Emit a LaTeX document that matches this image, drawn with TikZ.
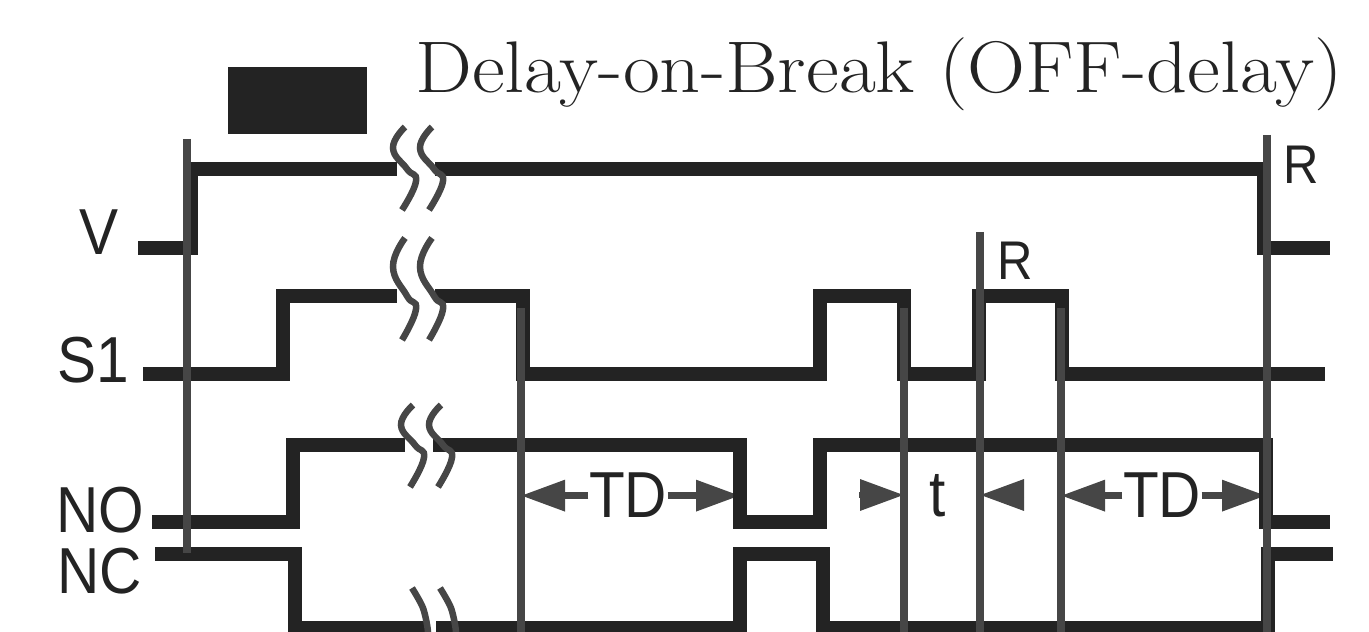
\documentclass[tikz,border=0pt]{standalone}
\usepackage{fontspec}
\newfontfamily\lblfont[FakeStretch=0.9]{Liberation Sans}
\usepackage{tikz}
\usetikzlibrary{arrows.meta, positioning, calc}

\definecolor{ink}{HTML}{232323}
\definecolor{lead}{HTML}{464646}

% break mark: crossing x, line y, reach up, reach down
\newcommand{\squig}[4]{%
  \draw[brk] plot[smooth, tension=0.8] coordinates
    {({#1-2},{#2-#3}) ({#1-14},{#2-0.5*#3}) (#1,#2) ({#1+9},{#2+0.3*#4}) ({#1-5},{#2+#4})};}

\begin{document}
\begin{tikzpicture}[
  x=0.1mm, y=-0.1mm,
  trace/.style={draw=ink, line width=1.45mm},
  vline/.style={draw=lead, line width=0.75mm},
  brk/.style={draw=lead, line width=0.65mm},
  dim/.style={draw=lead, line width=0.65mm, -{Triangle[length=4.4mm, width=3mm]}},
  lbl/.style={font=\lblfont\fontsize{18.5pt}{22pt}\selectfont, text=ink, inner sep=0pt, anchor=base},
  rlbl/.style={lbl, font=\lblfont\fontsize{15.5pt}{18pt}\selectfont},
]
  \useasboundingbox (0,0) rectangle (1369,632);

  % title and coil block
  \node[anchor=base, inner sep=0pt, text=ink, font=\fontsize{20.8pt}{24pt}\selectfont] (title) at (879,93)
    {\scalebox{1.1}[1]{Delay-on-Break (OFF-delay)}};
  \fill[ink] (228,67) rectangle (367,134);

  % signal names
  \node[lbl] (v) at (99,255) {V};
  \node[lbl] (s1) at (93,383) {S1};
  \node[lbl] (no) at (100,533) {NO};
  \node[lbl] (nc) at (100,594) {NC};

  % timing marks
  \coordinate (m0) at (187,139);
  \foreach \x/\top [count=\i] in {521/308, 904/308, 980/232, 1061/308, 1267/135}
    \coordinate (m\i) at (\x,\top);
  \coordinate (bot) at (0,640);
  \coordinate (fall1) at (740,0);
  \coordinate (fall2) at (1266,0);
  \coordinate (ta) at (859,495);
  \coordinate (tb) at (1024,495);

  % intervals
  \node[lbl] (td1) at (628,518) {TD};
  \node[lbl] (t) at (938,517) {t};
  \node[lbl] (td2) at (1162,518) {TD};
  \draw[dim] (td1.west) -- (td1.west -| m1);
  \draw[dim] (td1.east) -- (td1.east -| fall1);
  \draw[dim] (ta) -- (ta -| m2);
  \draw[dim] (tb) -- (tb -| m3);
  \draw[dim] (td2.west) -- (td2.west -| m4);
  \draw[dim] (td2.east) -- (td2.east -| fall2);

  % V
  \draw[trace] (138,248) -| (191,169) -- (397,169);
  \draw[trace] (435,169) -| (1264,248) -- (1330,248);
  % S1
  \draw[trace] (143,374) -| (283,296) -- (397,296);
  \draw[trace] (435,296) -| (523,374) -| (820,296) -| (904,374) -| (979,296) -| (1062,374) -- (1325,374);
  % NO
  \draw[trace] (152,522) -| (293,445) -- (405,445);
  \draw[trace] (433,445) -| (740,522) -| (820,445) -| (1266,522) -- (1330,522);
  % NC
  \draw[trace] (155,554) -| (295,628) -- (429,628);
  \draw[trace] (436,628) -| (740,554) -| (823,628) -| (1268,554) -- (1333,554);

  \draw[vline] (m0) -- (m0 |- 0,553);
  \foreach \i in {1,...,5}
    \draw[vline] (m\i) -- (m\i |- bot);

  % breaks
  \squig{407}{169}{42}{41} \squig{434}{169}{42}{41}
  \squig{407}{296}{58}{44} \squig{434}{296}{58}{44}
  \squig{415}{445}{40}{42} \squig{443}{445}{40}{42}
  \draw[brk] plot[smooth] coordinates {(412,588) (423,608) (428,632) (426,650)};
  \draw[brk] plot[smooth] coordinates {(440,588) (451,608) (456,632) (454,650)};

  \node[rlbl] (r1) at (1015,280) {R};
  \node[rlbl] (r2) at (1301,184) {R};
\end{tikzpicture}
\end{document}
